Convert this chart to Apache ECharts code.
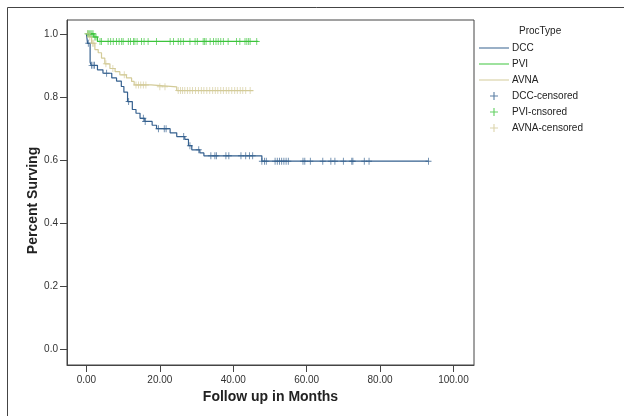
<!DOCTYPE html>
<html>
<head>
<meta charset="utf-8">
<script src="https://cdn.jsdelivr.net/npm/echarts@6/dist/echarts.min.js"></script>
<style>
  html, body { margin: 0; padding: 0; background: #fff; }
  #chart { width: 624px; height: 416px; }
</style>
</head>
<body>
<div id="chart"></div>
<script>
// Kaplan-Meier steps (time in months, survival after the step)
const dccTime = [0, 0.3, 1.0, 1.3, 3.0, 4.5, 6.9, 8.2, 9.5, 10.2, 11.2, 12.5, 13.5, 14.6, 15.9, 17.9, 19.1, 22.8, 24.6, 26.8, 27.8, 28.7, 30.9, 32.0, 47.8, 93.2];
const dccSurv = [1.0, 0.97, 0.91, 0.90, 0.886, 0.875, 0.86, 0.85, 0.833, 0.815, 0.785, 0.76, 0.748, 0.732, 0.722, 0.71, 0.699, 0.686, 0.674, 0.665, 0.645, 0.632, 0.622, 0.613, 0.596, 0.596];
const dccCensored = [0.5, 1.4, 1.8, 2.2, 5.5, 11.5, 15.5, 16.0, 19.6, 21.2, 21.7, 26.5, 28.2, 30.6, 33.9, 35.0, 35.4, 38.0, 38.8, 42.1, 43.4, 44.4, 45.3, 47.8, 48.5, 49.0, 51.4, 52.0, 52.6, 53.2, 53.8, 54.4, 55.0, 59.0, 59.5, 61.0, 64.4, 66.6, 67.7, 70.0, 72.3, 72.6, 75.7, 77.0, 93.2];

const pviTime = [0, 2.0, 3.0, 46.8];
const pviSurv = [1.0, 0.99, 0.976, 0.976];
const pviCensored = [0.3, 0.6, 0.9, 1.2, 1.5, 1.8, 2.3, 2.6, 3.7, 4.1, 5.9, 6.6, 7.3, 8.2, 8.9, 9.6, 10.0, 11.4, 12.0, 12.8, 13.2, 13.8, 15.0, 15.7, 16.8, 19.1, 22.8, 23.7, 25.0, 25.7, 26.4, 28.2, 29.6, 30.2, 31.8, 32.2, 32.6, 33.7, 34.6, 35.3, 35.9, 36.6, 37.3, 38.6, 40.9, 41.8, 43.2, 43.7, 44.2, 44.6, 46.4];

const avnaTime = [0, 0.8, 1.4, 2.3, 3.2, 4.1, 5.0, 6.4, 7.8, 9.1, 10.9, 12.3, 13.0, 17.6, 24.6, 45.5];
const avnaSurv = [1.0, 0.99, 0.97, 0.95, 0.94, 0.923, 0.905, 0.89, 0.88, 0.87, 0.86, 0.849, 0.838, 0.832, 0.82, 0.82];
const avnaCensored = [0.4, 0.9, 1.7, 2.0, 5.3, 7.2, 10.3, 13.5, 14.2, 14.8, 15.5, 16.2, 20.0, 21.4, 25.0, 25.6, 26.2, 26.8, 27.5, 28.2, 28.9, 29.7, 30.5, 31.3, 32.0, 32.8, 33.6, 34.4, 35.1, 35.8, 36.6, 37.3, 38.1, 38.8, 39.6, 40.4, 41.1, 41.9, 42.6, 43.4, 44.6];

const xTicks = [0, 20, 40, 60, 80, 100];
const yTicks = [0, 0.2, 0.4, 0.6, 0.8, 1.0];

const colors = { DCC: "#35608f", PVI: "#3cc43c", AVNA: "#d3cb98" };

const stepPoints = (times, surv) => times.map((t, i) => [t, surv[i]]);
// survival value at time t, read from the step data
const survAt = (times, surv, t) => {
  let s = surv[0];
  for (let i = 0; i < times.length; i++) if (times[i] <= t) s = surv[i];
  return s;
};
const censPoints = (cens, times, surv) => cens.map((t) => [t, survAt(times, surv, t)]);

const plus = "path://M0,4.3h10v1.4h-10z M4.3,0h1.4v10h-1.4z";
const lineIcon = "path://M0,0h30v1h-30z";

const lineSeries = (name, times, surv) => ({
  name,
  type: "line",
  step: "end",
  data: stepPoints(times, surv),
  symbol: "none",
  lineStyle: { color: colors[name], width: 1.2 },
  itemStyle: { color: colors[name] },
  animation: false,
  z: 2,
});
const censSeries = (name, key, cens, times, surv) => ({
  name,
  type: "scatter",
  data: censPoints(cens, times, surv),
  symbol: plus,
  symbolSize: [6, 7],
  symbolKeepAspect: false,
  itemStyle: { color: colors[key] },
  animation: false,
  z: 3,
});

const axisFont = "Liberation Sans, Arial";
const titleFont = "Liberation Sans Narrow, Arial Narrow, Liberation Sans, Arial";

const option = {
  backgroundColor: "#fff",
  grid: {
    left: 67, top: 20, right: 150, bottom: 51,
    show: true, borderColor: "#444", borderWidth: 1,
  },
  graphic: [
    {
      type: "rect",
      shape: { x: 7.5, y: 7.5, width: 640, height: 420 },
      style: { fill: "none", stroke: "#444", lineWidth: 1 },
      silent: true,
    },
    {
      type: "text",
      left: 519, top: 26,
      style: { text: "ProcType", fontSize: 10, fontFamily: axisFont, fill: "#222" },
    },
  ],
  legend: {
    orient: "vertical",
    left: 479, top: 43, padding: 0,
    itemWidth: 30, itemHeight: 8, itemGap: 6,
    textStyle: { fontSize: 10, fontFamily: axisFont, color: "#222", lineHeight: 10, padding: [0, 0, 0, -2] },
    data: [
      { name: "DCC", icon: lineIcon },
      { name: "PVI", icon: lineIcon },
      { name: "AVNA", icon: lineIcon },
      { name: "DCC-censored", icon: plus },
      { name: "PVI-cnsored", icon: plus },
      { name: "AVNA-censored", icon: plus },
    ],
  },
  xAxis: {
    type: "value",
    min: -5.3, max: 105.6,
    name: "Follow up in Months",
    nameLocation: "middle",
    nameGap: 25,
    nameMoveOverlap: false,
    nameTextStyle: { fontSize: 14, fontWeight: "bold", fontFamily: titleFont, color: "#222" },
    axisLine: { show: true, onZero: false, lineStyle: { color: "#444" } },
    axisTick: { show: true, customValues: xTicks, length: 7, lineStyle: { color: "#444" } },
    axisLabel: {
      customValues: xTicks, margin: 10, fontSize: 10, color: "#333",
      fontFamily: axisFont,
      formatter: (v) => v.toFixed(2),
    },
    splitLine: { show: false },
  },
  yAxis: {
    type: "value",
    min: -0.051, max: 1.044,
    name: "Percent Surving",
    nameLocation: "middle",
    nameGap: 27,
    nameMoveOverlap: false,
    nameTextStyle: { fontSize: 14, fontWeight: "bold", fontFamily: titleFont, color: "#222", padding: [0, 16, 0, 0] },
    axisLine: { show: true, onZero: false, lineStyle: { color: "#444" } },
    axisTick: { show: true, customValues: yTicks, length: 7, lineStyle: { color: "#444" } },
    axisLabel: {
      customValues: yTicks, margin: 9, fontSize: 10, color: "#333",
      fontFamily: axisFont,
      formatter: (v) => v.toFixed(1),
    },
    splitLine: { show: false },
  },
  series: [
    lineSeries("DCC", dccTime, dccSurv),
    lineSeries("PVI", pviTime, pviSurv),
    lineSeries("AVNA", avnaTime, avnaSurv),
    censSeries("DCC-censored", "DCC", dccCensored, dccTime, dccSurv),
    censSeries("PVI-cnsored", "PVI", pviCensored, pviTime, pviSurv),
    censSeries("AVNA-censored", "AVNA", avnaCensored, avnaTime, avnaSurv),
  ],
};

const myChart = echarts.init(document.getElementById("chart"));
myChart.setOption(option);
</script>
</body>
</html>
